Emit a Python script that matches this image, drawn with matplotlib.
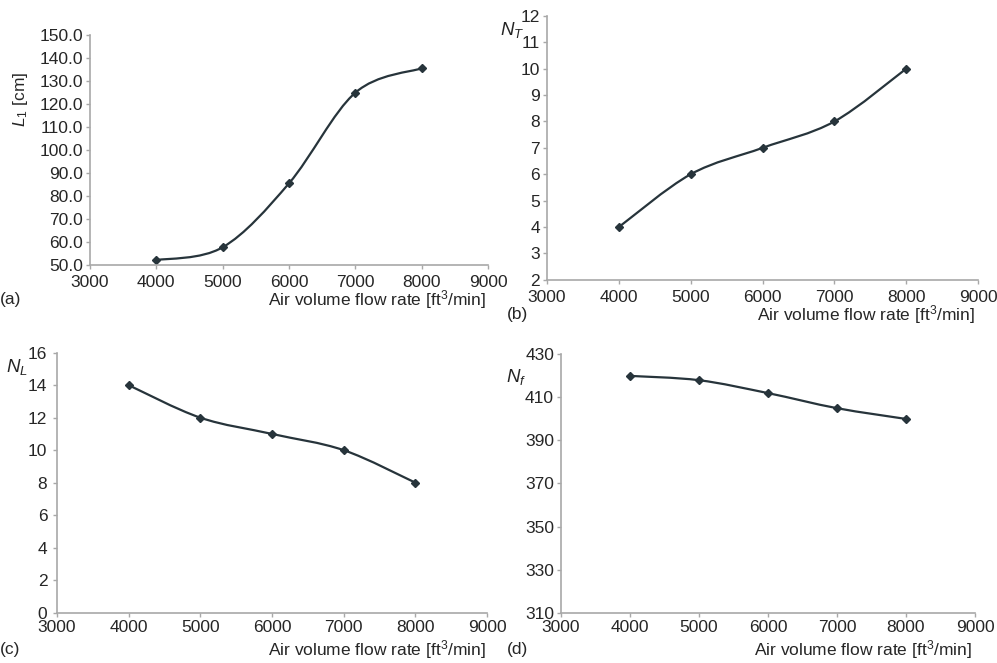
import numpy as np
import matplotlib
matplotlib.use("Agg")
import matplotlib.pyplot as plt
from matplotlib.path import Path
from matplotlib.patches import PathPatch

plt.rcParams['font.family'] = ['Liberation Sans', 'DejaVu Sans']
plt.rcParams['mathtext.fontset'] = 'custom'
plt.rcParams['mathtext.it'] = 'Liberation Sans:italic'
plt.rcParams['mathtext.rm'] = 'Liberation Sans'

flow = [4000, 5000, 6000, 7000, 8000]  # ft3/min
L1 = [52.2, 57.8, 85.6, 125.0, 135.6]  # cm
NT = [4, 6, 7, 8, 10]
NL = [14, 12, 11, 10, 8]
Nf = [420, 418, 412, 405, 400]

xticks = [3000, 4000, 5000, 6000, 7000, 8000, 9000]

line_col = '#27343b'
axis_col = '#a8a8a8'
text_col = '#262626'
fs = 12.5


def smooth_path(x, y):
    # excel-style smoothed line: bezier through the points
    p = np.column_stack([x, y]).astype(float)
    pts = np.vstack([p[0], p, p[-1]])
    verts = [p[0]]
    codes = [Path.MOVETO]
    for i in range(1, len(pts) - 2):
        c1 = pts[i] + (pts[i + 1] - pts[i - 1]) / 6
        c2 = pts[i + 1] - (pts[i + 2] - pts[i]) / 6
        verts += [c1, c2, pts[i + 1]]
        codes += [Path.CURVE4] * 3
    return Path(verts, codes)


def panel(rect, y, ylim, yticks, yfmt, xpad, ypad=2):
    ax = fig.add_axes(rect)
    ax.add_patch(PathPatch(smooth_path(flow, y), fill=False, ec=line_col, lw=1.6))
    ax.plot(flow, y, ls='none', marker='D', ms=4.5, color=line_col)
    ax.set_xlim(3000, 9000)
    ax.set_ylim(*ylim)
    ax.set_xticks(xticks)
    ax.set_yticks(yticks)
    ax.set_yticklabels([yfmt.format(v) for v in yticks])
    for s in ['top', 'right']:
        ax.spines[s].set_visible(False)
    for s in ['left', 'bottom']:
        ax.spines[s].set_color(axis_col)
        ax.spines[s].set_linewidth(1.2)
    ax.tick_params(colors=axis_col, labelcolor=text_col, labelsize=fs,
                   length=3, width=1)
    ax.tick_params(axis='y', pad=ypad)
    ax.tick_params(axis='x', pad=xpad)
    ax.set_facecolor('none')
    return ax


fig = plt.figure(figsize=(9.97, 6.63), dpi=100)

xl = 'Air volume flow rate [ft$^3$/min]'

# (a)
panel([0.0903, 0.600, 0.3992, 0.347], L1, (50, 150),
      [50, 60, 70, 80, 90, 100, 110, 120, 130, 140, 150], '{:.1f}', 4)
fig.text(0.021, 0.85, r'$L_1$ [cm]', rotation=90, fontsize=fs,
         color=text_col, ha='center', va='center')
fig.text(0.487, 0.548, xl, fontsize=fs, color=text_col, ha='right', va='center')
fig.text(0.0, 0.548, '(a)', fontsize=fs, color=text_col, ha='left', va='center')

# (b)
panel([0.5487, 0.578, 0.4323, 0.398], NT, (2, 12),
      list(range(2, 13)), '{:d}', 4)
fig.text(0.502, 0.955, r'$N_T$', fontsize=fs + 1, color=text_col, ha='left', va='center')
fig.text(0.978, 0.525, xl, fontsize=fs, color=text_col, ha='right', va='center')
fig.text(0.508, 0.525, '(b)', fontsize=fs, color=text_col, ha='left', va='center')

# (c)
panel([0.0572, 0.076, 0.4313, 0.392], NL, (0, 16),
      list(range(0, 17, 2)), '{:d}', 2.5, ypad=4)
fig.text(0.006, 0.446, r'$N_L$', fontsize=fs + 1, color=text_col, ha='left', va='center')
fig.text(0.487, 0.021, xl, fontsize=fs, color=text_col, ha='right', va='center')
fig.text(0.0, 0.021, '(c)', fontsize=fs, color=text_col, ha='left', va='center')

# (d)
panel([0.5627, 0.076, 0.4152, 0.3895], Nf, (310, 430),
      list(range(310, 431, 20)), '{:d}', 2.5)
fig.text(0.508, 0.432, r'$N_f$', fontsize=fs + 1, color=text_col, ha='left', va='center')
fig.text(0.975, 0.021, xl, fontsize=fs, color=text_col, ha='right', va='center')
fig.text(0.508, 0.021, '(d)', fontsize=fs, color=text_col, ha='left', va='center')

fig.savefig('out.png', dpi=100, facecolor='white')
